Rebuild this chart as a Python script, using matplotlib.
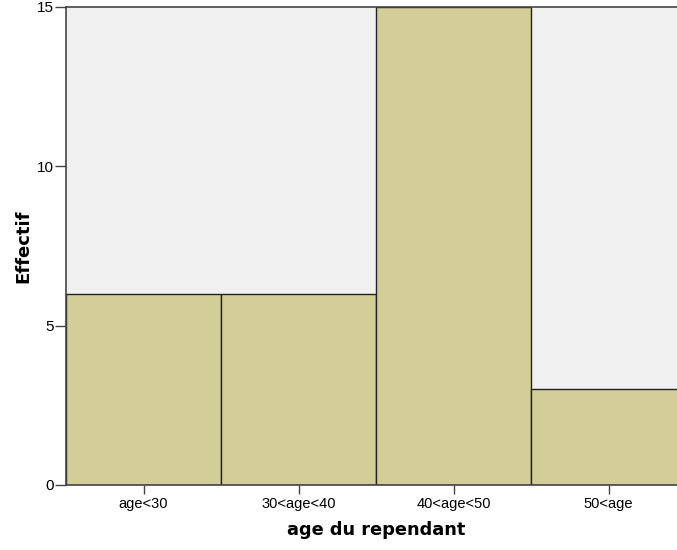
import matplotlib
matplotlib.use("Agg")
import matplotlib.pyplot as plt

plt.rcParams['font.family'] = ['Liberation Sans', 'DejaVu Sans']

categories = ['age<30', '30<age<40', '40<age<50', '50<age']
counts = [6, 6, 15, 3]

fig = plt.figure(figsize=(6.77, 5.5), dpi=100)
# right edge runs past the figure, as in the original (cropped export)
ax = fig.add_axes([66 / 677, 65 / 550, 620 / 677, 478 / 550])
ax.set_facecolor('#F0F0F0')

x = list(range(len(categories)))
ax.bar(x, counts, width=1.0, color='#D3CE98', edgecolor='#222222', linewidth=1.0)

ax.set_xlim(-0.5, len(categories) - 0.5)
ax.set_ylim(0, 15)
ax.set_yticks([0, 5, 10, 15])
ax.set_xticks(x)
ax.set_xticklabels(categories)

ax.tick_params(axis='x', length=6.5, width=1, color='#444444', labelsize=10.5, pad=2)
ax.tick_params(axis='y', length=8, width=1, color='#444444', labelsize=11, pad=1)

for side in ['left', 'bottom', 'top', 'right']:
    ax.spines[side].set_color('#444444')
    ax.spines[side].set_linewidth(1.2)

ax.set_ylabel('Effectif', fontsize=13, fontweight='bold', family='DejaVu Sans')
ax.set_xlabel('age du rependant', fontsize=12.8, fontweight='bold', family='DejaVu Sans')
ax.yaxis.set_label_coords(-(66 - 23) / 620, 0.5)
ax.yaxis.label.set_verticalalignment('center')
ax.xaxis.set_label_coords(0.5, -(530 - 485) / 478)
ax.xaxis.label.set_verticalalignment('center')

plt.savefig('out.png', dpi=100)
